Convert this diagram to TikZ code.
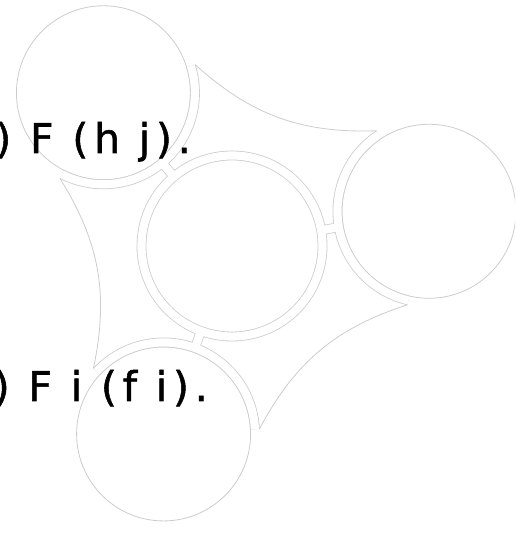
\documentclass[tikz,border=0pt]{standalone}
\usepackage{fontspec}
\setmainfont{DejaVu Sans}[LetterSpace=14, FakeBold=1.3]
\usetikzlibrary{calc}
\begin{document}
\begin{tikzpicture}[x=1pt, y=1pt,
    every node/.style={font={\fontsize{41pt}{48pt}\selectfont}},
    rim/.style={draw=gray!40, line width=0.8pt},
    band/.style={draw=gray!40, line width=0.8pt, double=white, double distance=8.2pt},
    ball/.style={circle, draw=gray!40, line width=0.8pt, minimum size=174pt, inner sep=0pt}]
    \useasboundingbox (0,0) rectangle (515,534);
    \clip (0,0) rectangle (515,534);
    % Bolas
    \coordinate (mid) at (232,288);
    \node[ball] (hj) at ($(mid)+(130:200)$) {};
    \node[ball] (right) at ($(mid)+(10:200)$) {};
    \node[ball] (fi) at ($(mid)+(250:200)$) {};

    % Anillo, puentes y bandas
    \draw[band] (mid) circle[radius=90.5]
        ($(mid)+(130:90.5)$) -- ($(mid)+(130:108.5)$)
        ($(mid)+(10:90.5)$) -- ($(mid)+(10:108.5)$)
        ($(mid)+(250:90.5)$) -- ($(mid)+(250:108.5)$)
        ($(hj.center)+(243:91.5)$) arc[start angle=243, end angle=377, radius=91.5]
        ($(right.center)+(123:91.5)$) arc[start angle=123, end angle=257, radius=91.5]
        ($(fi.center)+(3:91.5)$) arc[start angle=3, end angle=137, radius=91.5];

    % Bordes
    \draw[rim] ($(hj.center)+(17:96)$) to[bend right=22] ($(right.center)+(123:96)$);
    \draw[rim] ($(right.center)+(257:96)$) to[bend right=22] ($(fi.center)+(3:96)$);
    \draw[rim] ($(fi.center)+(137:96)$) to[bend right=22] ($(hj.center)+(243:96)$);

    % Textos
    \node[anchor=base east, inner sep=0pt] (eqhj) at (191,381) {) F (h j).};
    \node[anchor=base east, inner sep=0pt] (eqfi) at (208,133) {) F i (f i).};
\end{tikzpicture}
\end{document}
